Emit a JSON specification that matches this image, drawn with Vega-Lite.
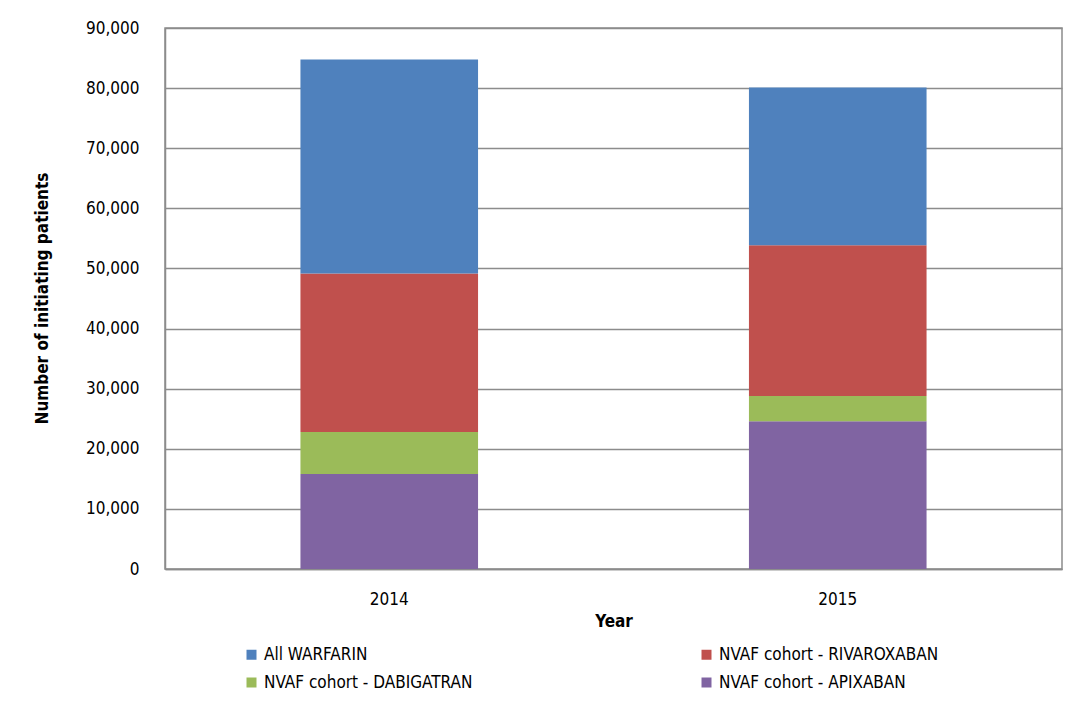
{
  "$schema": "https://vega.github.io/schema/vega-lite/v6.json",
  "autosize": "none",
  "width": 897,
  "height": 541,
  "padding": {"left": 165, "top": 28, "right": 5, "bottom": 135},
  "background": "white",
  "config": {
    "font": "Liberation Sans Narrow, DejaVu Sans Condensed, sans-serif",
    "view": {"stroke": "#8c8c8c", "strokeWidth": 1.5}
  },
  "data": {
    "values": [
      {"year": "2014", "drug": "NVAF cohort - APIXABAN", "patients": 15810},
      {"year": "2014", "drug": "NVAF cohort - DABIGATRAN", "patients": 7000},
      {"year": "2014", "drug": "NVAF cohort - RIVAROXABAN", "patients": 26350},
      {"year": "2014", "drug": "All WARFARIN", "patients": 35600},
      {"year": "2015", "drug": "NVAF cohort - APIXABAN", "patients": 24580},
      {"year": "2015", "drug": "NVAF cohort - DABIGATRAN", "patients": 4210},
      {"year": "2015", "drug": "NVAF cohort - RIVAROXABAN", "patients": 25070},
      {"year": "2015", "drug": "All WARFARIN", "patients": 26240}
    ]
  },
  "transform": [
    {"calculate": "indexof(['NVAF cohort - APIXABAN','NVAF cohort - DABIGATRAN','NVAF cohort - RIVAROXABAN','All WARFARIN'], datum.drug)", "as": "ord"}
  ],
  "mark": {"type": "bar"},
  "encoding": {
    "x": {
      "field": "year", "type": "nominal",
      "scale": {"paddingInner": 0.604, "paddingOuter": 0.302},
      "axis": {
        "title": "Year", "labelAngle": 0, "ticks": false,
        "domainColor": "#8c8c8c", "domainWidth": 1.5,
        "labelFontSize": 17, "labelColor": "#000", "labelPadding": 22,
        "titleFontSize": 17, "titleFontWeight": "bold", "titleColor": "#000",
        "titleY": 44, "titleBaseline": "top"
      }
    },
    "y": {
      "field": "patients", "type": "quantitative", "aggregate": "sum",
      "scale": {"domain": [0, 90000], "nice": false},
      "axis": {
        "title": "Number of initiating patients",
        "values": [0, 10000, 20000, 30000, 40000, 50000, 60000, 70000, 80000, 90000],
        "format": ",d", "ticks": false,
        "domainColor": "#8c8c8c", "domainWidth": 1.5,
        "gridColor": "#8c8c8c", "gridWidth": 1.5,
        "labelFontSize": 17, "labelColor": "#000", "labelPadding": 26,
        "titleFontSize": 17, "titleFontWeight": "bold", "titleColor": "#000",
        "titleX": -123, "titleY": 270, "titleAngle": -90, "titleBaseline": "middle", "titleAlign": "center"
      }
    },
    "color": {
      "field": "drug", "type": "nominal",
      "scale": {
        "domain": ["All WARFARIN", "NVAF cohort - DABIGATRAN", "NVAF cohort - RIVAROXABAN", "NVAF cohort - APIXABAN"],
        "range": ["#4F81BD", "#9BBB59", "#C0504D", "#8064A2"]
      },
      "legend": {
        "title": null, "orient": "none", "legendX": 78, "legendY": 618,
        "columns": 2, "columnPadding": 214, "gridAlign": "all", "rowPadding": 10,
        "symbolType": "square", "symbolSize": 100, "symbolStrokeWidth": 0,
        "labelFontSize": 17, "labelColor": "#000", "labelOffset": 4, "labelLimit": 400
      }
    },
    "order": {"field": "ord", "type": "quantitative"}
  }
}
